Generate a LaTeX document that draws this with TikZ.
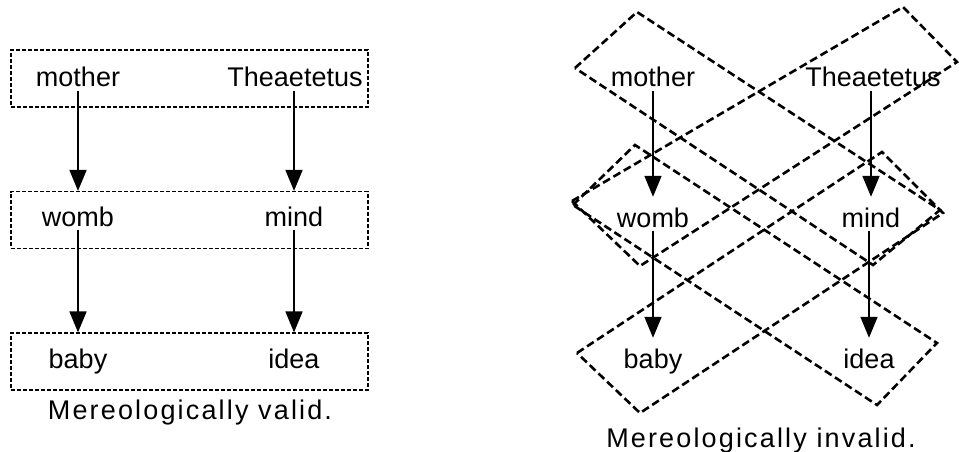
\documentclass[tikz,border=0pt]{standalone}
\usepackage{fontspec}
\setmainfont{Liberation Sans}
\newfontfamily\capfont[LetterSpace=8]{Liberation Sans}
\usetikzlibrary{arrows.meta}
\tikzset{arr/.style = {-{Triangle[length=21pt, width=17pt]}, line width=1.7pt}}
\tikzset{lbl/.style = {inner sep = 0, text height = 20pt, text depth = 4pt, anchor = base,
                       font = \fontsize{27}{30}\selectfont}}
\tikzset{captext/.style = {inner sep = 0, anchor = base, font = \capfont\fontsize{27}{30}\selectfont}}
\tikzset{rowbox/.style = {draw, line width = 1.2pt, dash pattern = on 4pt off 2pt,
                          minimum width = 357pt, minimum height = 57pt, inner sep = 0}}
\tikzset{diam/.style = {line width = 2.6pt, dash pattern = on 8pt off 4pt}}

\begin{document}
\begin{tikzpicture}[x=1pt, y=-1pt]
    \useasboundingbox (0, 0) rectangle (959, 452);

    % left: one box per row
    \node [rowbox] (row1) at (189.5, 78.5) {};
    \node [rowbox] (row2) at (189.5, 220) {};
    \node [rowbox] (row3) at (189.5, 361.5) {};

    \node [lbl] (mother) at (78, 87) {mother};
    \node [lbl] (theaet) at (295, 87) {Theaetetus};
    \node [lbl] (womb) at (78, 226) {womb};
    \node [lbl] (mind) at (294, 226) {mind};
    \node [lbl] (baby) at (78, 368) {baby};
    \node [lbl] (idea) at (294, 368) {idea};

    \draw [arr] (mother) -- (mother |- row2.north);
    \draw [arr] (mind |- theaet.south) -- (mind |- row2.north);
    \draw [arr] (womb) -- (womb |- row3.north);
    \draw [arr] (mind) -- (mind |- row3.north);

    \node [captext] (valid) at (190, 419) {Mereologically valid.};

    % right: the crossed groupings
    \node [lbl] (mother2) at (653, 87) {mother};
    \node [lbl] (theaet2) at (873, 87) {Theaetetus};
    \node [lbl] (womb2) at (653, 227) {womb};
    \node [lbl] (mind2) at (871, 227) {mind};
    \node [lbl] (baby2) at (653, 368) {baby};
    \node [lbl] (idea2) at (869, 368) {idea};

    \draw [arr] (mother2) -- ([yshift=10pt]mother2 |- womb2.north);
    \draw [arr] (theaet2.south -| mind2) -- ([yshift=10pt]mind2.north);
    \draw [arr] (womb2) -- ([yshift=10pt]womb2 |- baby2.north);
    \draw [arr] (mind2.south -| idea2) -- ([yshift=10pt]idea2.north);

    \draw [diam] (575, 68) -- (637, 12) -- (940, 210) -- (873, 265) -- cycle;
    \draw [diam] (572, 201) -- (903, 7) -- (957, 62) -- (640, 266) -- cycle;
    \draw [diam] (573, 205) -- (635, 145) -- (937, 343) -- (877, 405) -- cycle;
    \draw [diam] (577, 353) -- (882, 152) -- (943, 213) -- (640, 413) -- cycle;

    \node [captext] (invalid) at (761, 447) {Mereologically invalid.};
\end{tikzpicture}
\end{document}
